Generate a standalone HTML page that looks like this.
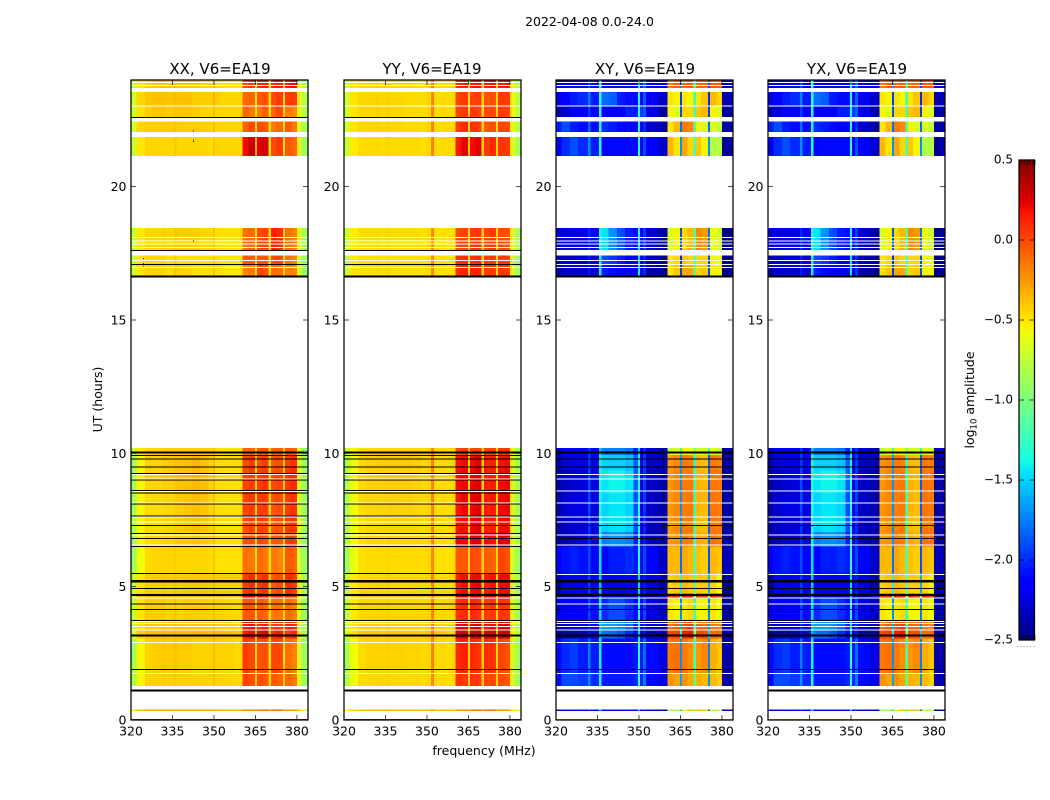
<!DOCTYPE html>
<html lang="en">
<head>
<meta charset="utf-8">
<title>2022-04-08 0.0-24.0</title>
<style>
html,body{margin:0;padding:0;background:#fff;}
svg{display:block;}
text{font-family:"DejaVu Sans","Liberation Sans",sans-serif;fill:#000;}
</style>
</head>
<body>
<svg id="chart" xmlns="http://www.w3.org/2000/svg" width="1050" height="800" viewBox="0 0 1050 800">
  <rect x="0" y="0" width="1050" height="800" fill="#fff"/>
  <text x="589.5" y="26" font-size="12.5" text-anchor="middle">2022-04-08 0.0-24.0</text>
  <g id="panel-xx"></g>
  <g id="panel-yy"></g>
  <g id="panel-xy"></g>
  <g id="panel-yx"></g>
  <text x="220" y="74" font-size="15" text-anchor="middle">XX, V6=EA19</text>
  <text x="432" y="74" font-size="15" text-anchor="middle">YY, V6=EA19</text>
  <text x="645" y="74" font-size="15" text-anchor="middle">XY, V6=EA19</text>
  <text x="857" y="74" font-size="15" text-anchor="middle">YX, V6=EA19</text>
  <text x="484" y="755" font-size="12.5" text-anchor="middle">frequency (MHz)</text>
  <text x="0" y="0" font-size="12.5" text-anchor="middle" transform="translate(102,399.5) rotate(-90)">UT (hours)</text>
  <g id="colorbar"></g>
  <text x="0" y="0" font-size="12.5" text-anchor="middle" transform="translate(974,400) rotate(-90)">log<tspan font-size="8.5" dy="2.5">10</tspan><tspan dy="-2.5"> amplitude</tspan></text>
</svg>
<script>
// Frequency channel edges (MHz) and time rows (UT hours)
const freqEdges = [320,322,325,328,331.5,332.5,335.5,336.5,339,342,345,348,349.7,350.4,351.5,352.5,357,360.4,362.5,364.8,365.6,367.5,369.8,370.6,372.5,374.9,375.6,378,380,381,382,384];
const timeStart = [23.7,23.0,22.6,22.05,21.15,17.6,17.1,16.65,9.94,9.35,8.5,7.8,7.05,6.5,5.5,4.75,4.55,3.75,3.35,3.05,1.75,1.27,0.33,0];
const timeEnd = [24,23.55,23.0,22.45,21.87,18.45,17.42,17.1,10.2,9.94,9.35,8.5,7.8,7.05,6.5,5.5,4.75,4.55,3.75,3.35,3.05,1.75,0.4,0.04];

// log10 amplitude x 100, one row per time row, one value per channel
const xxValues = [
[-75,-48,-42,-40,-38,-42,-38,-42,-42,-42,-45,-45,-35,-45,-45,-48,-48,0,5,-48,10,15,-48,10,15,-45,15,20,-50,-70,-85],
[-70,-45,-40,-38,-38,-40,-36,-40,-38,-42,-42,-42,-32,-42,-42,-45,-45,-10,-8,-48,-5,-2,-48,0,5,-48,5,5,-48,-68,-80],
[-72,-48,-42,-40,-40,-42,-38,-40,-40,-42,-45,-45,-35,-45,-45,-45,-45,-8,-15,-48,-15,-5,-48,-8,0,-48,-15,-20,-52,-70,-82],
[-68,-45,-42,-42,-42,-42,-38,-42,-42,-42,-42,-45,-35,-45,-45,-45,-45,-8,0,-45,0,-5,-48,-15,-10,-48,-5,-15,-55,-72,-85],
[-72,-50,-45,-45,-45,-45,-40,-45,-45,-45,-45,-48,-38,-45,-45,-45,-45,20,32,-30,25,28,-48,0,5,-48,-5,-10,-50,-72,-90],
[-72,-50,-45,-45,-42,-45,-38,-42,-42,-42,-45,-45,-38,-48,-48,-48,-48,-12,-10,-48,0,2,-48,15,10,-48,-12,-18,-50,-72,-88],
[-75,-50,-45,-45,-45,-48,-40,-48,-48,-48,-48,-48,-40,-48,-48,-50,-50,-5,-5,-48,-2,-5,-48,0,2,-48,-12,-18,-52,-72,-90],
[-72,-50,-45,-45,-45,-48,-38,-45,-45,-48,-48,-48,-38,-48,-48,-50,-50,-18,-15,-48,2,-2,-48,-12,-12,-48,-18,-20,-55,-75,-95],
[-72,-50,-45,-45,-42,-42,-42,-42,-42,-42,-42,-45,-35,-48,-48,-48,-48,-8,-8,-45,-5,-5,-45,-8,-8,-45,-5,-8,-60,-75,-95],
[-85,-55,-45,-45,-42,-42,-40,-40,-38,-36,-40,-45,-35,-48,-48,-48,-48,0,5,-45,0,5,-45,-5,-2,-45,5,8,-55,-75,-90],
[-85,-55,-45,-45,-42,-42,-40,-40,-38,-35,-38,-45,-35,-48,-48,-48,-48,2,5,-45,5,8,-45,0,2,-45,7,10,-55,-75,-90],
[-85,-55,-47,-47,-45,-45,-42,-42,-40,-37,-40,-45,-37,-48,-48,-48,-48,2,5,-45,5,5,-45,-2,0,-45,5,7,-55,-75,-90],
[-85,-55,-47,-47,-45,-45,-42,-42,-40,-38,-40,-45,-37,-48,-48,-48,-48,0,2,-45,5,2,-45,-4,-2,-45,5,7,-55,-75,-90],
[-85,-55,-47,-47,-45,-45,-42,-42,-42,-40,-42,-45,-37,-48,-48,-48,-48,-2,-2,-45,2,-2,-45,-4,-4,-45,5,5,-58,-78,-92],
[-88,-58,-47,-45,-45,-45,-42,-45,-45,-45,-45,-47,-38,-48,-48,-48,-48,-12,-15,-48,-10,-15,-48,-15,-18,-48,-5,-8,-60,-80,-90],
[-75,-50,-42,-42,-40,-42,-38,-42,-40,-40,-40,-42,-33,-42,-42,-42,-42,5,10,-42,5,10,-45,-5,0,-45,10,5,-52,-72,-85],
[-65,-40,-35,-35,-34,-35,-32,-35,-35,-35,-35,-36,-30,-36,-36,-36,-38,25,32,-15,25,20,-25,10,10,-25,15,10,-42,-65,-78],
[-75,-50,-42,-42,-42,-45,-38,-45,-42,-42,-42,-45,-35,-45,-45,-45,-47,-5,-5,-48,-5,-10,-48,-15,-15,-48,-12,-18,-55,-75,-90],
[-72,-48,-42,-42,-40,-42,-36,-40,-40,-40,-40,-42,-33,-42,-42,-42,-45,15,20,-40,10,15,-45,5,5,-42,15,10,-50,-70,-85],
[-65,-42,-38,-38,-36,-38,-34,-38,-38,-38,-38,-38,-32,-38,-38,-38,-40,15,20,-35,20,25,-35,10,15,-35,5,10,-45,-68,-82],
[-85,-55,-44,-42,-41,-42,-38,-42,-42,-44,-44,-44,-35,-44,-44,-44,-46,5,0,-45,-2,-2,-48,2,0,-48,-12,-18,-55,-75,-90],
[-85,-55,-44,-44,-42,-44,-40,-44,-44,-44,-44,-45,-38,-45,-45,-45,-47,2,-2,-42,0,-5,-45,-5,-8,-45,-10,-15,-55,-75,-90],
[-55,-38,-32,-32,-32,-32,-30,-32,-32,-32,-32,-32,-28,-32,-32,-35,-35,-20,-20,-30,-15,-10,-28,-10,-10,-30,-25,-25,-45,-55,-65],
[30,30,30,30,30,30,30,30,30,30,30,30,30,30,30,30,30,30,30,30,30,30,30,30,30,30,30,30,30,30,30]
];

const yyValues = [
[-72,-50,-45,-45,-42,-45,-42,-45,-45,-45,-47,-47,-45,-45,-15,-47,-47,10,15,-45,15,18,-45,15,18,-45,15,18,-47,-65,-80],
[-70,-50,-45,-45,-43,-45,-42,-45,-45,-47,-47,-47,-45,-45,-18,-47,-47,2,5,-45,2,5,-45,-2,-2,-45,5,5,-47,-62,-78],
[-70,-50,-45,-45,-43,-45,-42,-45,-45,-47,-47,-47,-45,-45,-18,-47,-47,2,5,-45,5,2,-45,0,0,-45,5,2,-47,-62,-78],
[-70,-50,-45,-45,-43,-45,-42,-45,-45,-47,-47,-47,-45,-45,-18,-47,-47,5,10,-45,8,5,-45,-5,-2,-45,2,0,-50,-65,-80],
[-72,-52,-47,-47,-45,-47,-44,-47,-47,-47,-47,-48,-46,-47,-18,-47,-47,15,25,-38,20,25,-45,5,10,-45,7,5,-50,-68,-85],
[-72,-52,-47,-47,-45,-47,-44,-47,-47,-47,-47,-48,-46,-47,-20,-48,-48,0,2,-45,5,7,-45,2,5,-45,0,-2,-50,-68,-85],
[-75,-52,-48,-48,-46,-48,-45,-48,-48,-48,-48,-48,-47,-48,-20,-48,-50,7,10,-45,7,10,-45,5,5,-45,5,5,-52,-70,-88],
[-72,-50,-48,-48,-46,-48,-45,-48,-48,-48,-48,-48,-47,-48,-20,-48,-50,10,13,-45,13,13,-45,5,5,-45,7,5,-52,-70,-88],
[-80,-55,-47,-46,-45,-45,-44,-45,-45,-45,-45,-46,-45,-46,-18,-47,-47,0,5,-45,2,2,-45,2,2,-45,7,7,-52,-70,-88],
[-85,-58,-47,-44,-43,-43,-42,-42,-42,-42,-44,-46,-45,-46,-18,-47,-47,18,20,-45,20,25,-45,13,13,-45,18,20,-50,-70,-85],
[-85,-58,-47,-44,-43,-43,-42,-42,-42,-42,-44,-46,-45,-46,-18,-47,-47,20,22,-45,22,25,-45,15,15,-45,20,22,-50,-70,-85],
[-85,-58,-47,-45,-44,-44,-43,-43,-43,-43,-45,-46,-45,-46,-18,-47,-47,18,22,-45,22,25,-45,15,15,-45,20,22,-50,-70,-85],
[-85,-58,-48,-46,-45,-45,-44,-44,-44,-44,-45,-46,-45,-46,-18,-47,-47,18,20,-45,22,25,-45,13,15,-45,20,20,-50,-70,-85],
[-85,-58,-48,-46,-45,-46,-44,-45,-45,-45,-46,-46,-45,-46,-18,-47,-47,22,22,-42,25,25,-44,20,18,-44,25,22,-50,-70,-85],
[-88,-60,-48,-47,-46,-47,-45,-47,-47,-47,-47,-47,-46,-47,-20,-48,-48,-5,-5,-45,0,-2,-45,-5,-8,-45,2,-2,-55,-75,-88],
[-78,-52,-46,-45,-44,-45,-42,-45,-45,-45,-45,-46,-44,-46,-18,-46,-46,15,20,-42,20,22,-44,15,18,-44,20,20,-50,-70,-85],
[-70,-45,-40,-40,-38,-40,-36,-40,-40,-40,-40,-40,-38,-40,-15,-40,-42,28,33,-20,30,33,-30,25,28,-30,28,30,-42,-65,-78],
[-78,-52,-46,-45,-44,-45,-42,-45,-45,-45,-45,-46,-44,-46,-18,-46,-46,7,10,-45,10,7,-45,5,5,-45,7,5,-52,-70,-85],
[-75,-50,-44,-44,-42,-44,-40,-44,-44,-44,-44,-44,-42,-44,-15,-45,-46,22,25,-42,25,28,-44,18,20,-42,25,25,-48,-68,-82],
[-70,-48,-42,-42,-40,-42,-38,-42,-42,-42,-42,-42,-40,-42,-15,-42,-44,28,30,-30,30,32,-32,25,28,-32,28,30,-45,-65,-80],
[-85,-58,-47,-44,-43,-44,-42,-44,-44,-45,-45,-46,-45,-46,-18,-46,-47,10,13,-45,10,7,-45,10,7,-45,2,-2,-52,-72,-88],
[-85,-58,-47,-46,-45,-46,-43,-46,-46,-46,-46,-47,-46,-47,-20,-47,-48,7,5,-42,7,5,-44,2,0,-44,0,-5,-52,-72,-88],
[-60,-45,-38,-38,-38,-38,-36,-38,-38,-38,-38,-38,-36,-38,-20,-40,-40,-25,-22,-32,-15,-12,-30,-12,-12,-32,-22,-25,-45,-55,-65],
[30,30,30,30,30,30,30,30,30,30,30,30,30,30,30,30,30,30,30,30,30,30,30,30,30,30,30,30,30,30,30]
];

const xyValues = [
[-230,-220,-220,-215,-190,-220,-130,-215,-220,-220,-220,-215,-130,-205,-180,-220,-225,-15,-5,-170,-10,-5,-130,-10,-10,-190,-5,-5,-240,-240,-235],
[-225,-215,-205,-200,-175,-205,-130,-180,-185,-205,-210,-210,-135,-210,-185,-220,-230,-50,-55,-195,-50,-55,-125,-50,-40,-200,-35,-45,-240,-240,-235],
[-240,-230,-220,-220,-195,-220,-135,-220,-220,-220,-205,-205,-135,-195,-185,-225,-240,-55,-65,-190,-45,-45,-125,-40,-35,-195,-55,-65,-245,-240,-240],
[-205,-190,-205,-210,-180,-210,-135,-200,-205,-210,-215,-215,-135,-220,-200,-230,-240,-50,-35,-180,-15,-20,-115,-55,-65,-180,-65,-75,-240,-240,-240],
[-220,-200,-190,-200,-170,-205,-135,-215,-210,-210,-210,-210,-130,-215,-190,-215,-230,-35,-50,-170,-30,-45,-120,-40,-55,-170,-80,-80,-245,-245,-240],
[-230,-225,-225,-225,-200,-220,-135,-145,-170,-190,-205,-210,-135,-215,-195,-230,-240,-65,-55,-190,-45,-35,-120,-20,-25,-180,-60,-70,-245,-245,-245],
[-235,-230,-230,-230,-205,-230,-140,-190,-195,-205,-215,-220,-145,-220,-200,-235,-240,-50,-45,-200,-40,-45,-120,-45,-45,-190,-55,-60,-245,-245,-245],
[-240,-230,-230,-230,-205,-230,-140,-205,-210,-215,-220,-220,-140,-225,-200,-240,-245,-50,-40,-195,-30,-30,-115,-45,-40,-190,-55,-55,-245,-245,-245],
[-230,-220,-220,-220,-195,-220,-150,-175,-175,-175,-180,-205,-145,-220,-200,-230,-235,-75,-65,-130,-55,-60,-100,-70,-70,-130,-60,-70,-240,-235,-235],
[-235,-225,-222,-222,-195,-220,-135,-150,-150,-150,-155,-185,-135,-220,-195,-230,-235,-25,-20,-165,-15,-18,-130,-35,-38,-185,-15,-18,-245,-240,-240],
[-240,-232,-228,-225,-190,-225,-135,-145,-140,-140,-145,-185,-135,-225,-195,-232,-240,-25,-18,-170,-15,-15,-125,-33,-36,-185,-14,-15,-245,-240,-240],
[-240,-228,-225,-225,-190,-225,-135,-150,-145,-145,-150,-190,-135,-225,-195,-232,-240,-25,-20,-170,-16,-15,-125,-33,-36,-185,-14,-15,-245,-240,-240],
[-240,-232,-228,-228,-195,-228,-135,-150,-145,-145,-150,-190,-135,-225,-200,-235,-240,-25,-20,-170,-16,-15,-125,-35,-38,-185,-14,-15,-245,-240,-240],
[-240,-235,-232,-228,-200,-228,-140,-175,-170,-170,-175,-205,-140,-228,-205,-235,-240,-25,-22,-170,-15,-18,-125,-30,-33,-180,-12,-15,-245,-240,-240],
[-218,-208,-204,-208,-190,-212,-145,-214,-205,-205,-200,-205,-130,-210,-190,-212,-232,-36,-36,-180,-30,-36,-120,-38,-42,-190,-35,-40,-240,-235,-235],
[-238,-220,-220,-220,-195,-220,-150,-220,-220,-220,-220,-220,-145,-220,-205,-225,-238,-45,-40,-140,-35,-40,-115,-42,-42,-160,-45,-55,-240,-240,-240],
[-245,-242,-240,-240,-225,-238,-175,-232,-232,-232,-232,-232,-165,-238,-220,-238,-210,5,12,-140,15,12,-110,10,5,-120,12,5,-245,-245,-240],
[-225,-215,-215,-215,-190,-210,-145,-200,-190,-190,-200,-210,-135,-215,-190,-225,-232,-50,-55,-170,-50,-45,-125,-55,-55,-175,-50,-60,-240,-240,-240],
[-238,-230,-230,-225,-200,-220,-150,-165,-165,-170,-180,-205,-140,-220,-200,-230,-238,-15,-5,-160,0,5,-120,-10,-10,-170,-15,-20,-240,-240,-240],
[-242,-238,-238,-234,-210,-230,-160,-180,-180,-188,-200,-220,-150,-230,-210,-238,-240,0,5,-140,15,18,-100,0,0,-150,-10,-10,-245,-245,-245],
[-210,-200,-195,-205,-175,-205,-140,-210,-210,-210,-210,-205,-130,-205,-180,-210,-225,-15,-12,-170,-15,-22,-120,-25,-20,-175,-32,-40,-240,-240,-240],
[-210,-190,-190,-195,-170,-200,-135,-205,-205,-205,-205,-200,-125,-200,-175,-210,-220,-22,-28,-165,-22,-30,-115,-32,-35,-170,-35,-42,-240,-240,-240],
[-230,-220,-220,-215,-200,-220,-155,-220,-220,-220,-220,-220,-160,-220,-205,-230,-238,-85,-85,-150,-55,-40,-120,-40,-40,-180,-80,-85,-240,-240,-240],
[-30,-30,-30,-30,-30,-30,-30,-30,-30,-30,-30,-30,-30,-30,-30,-30,-25,10,15,5,15,15,5,10,10,5,-20,-20,-30,-30,-30]
];

const yxValues = xyValues;

// Flagged time samples (UT hours) drawn as thin or thick horizontal lines
const parallelBlackThin = [9.91,9.78,9.48,9.25,9.0,8.6,8.52,8.1,7.65,7.3,6.99,6.81,6.5,5.49,4.94,4.71,4.66,4.35,4.15,3.74,1.9,22.6,17.6,17.09];
const parallelBlackThick = [10.03,5.21,3.17,1.105,16.63];
const parallelWhiteThin = [9.21,9.04,8.56,8.13,7.62,7.42,6.93,6.57,4.57,3.7,3.61,3.5,3.37,2.91,1.75,18.1,17.97,17.85,17.72,23.02,23.91,23.8,17.23,16.97];
const crossBlackThin = [9.78,9.48,7.3,6.81,4.94,4.71,4.66,4.15,3.74,1.9];
const crossBlackThick = [10.03,5.21,3.17,1.105,16.63];
const crossWhiteThin = [9.21,9.04,8.58,8.13,7.62,7.42,6.93,6.57,5.46,4.57,4.35,3.7,3.61,3.5,3.37,2.91,1.75,23.91,23.8,23.02,22.6,18.1,17.97,17.85,17.72,17.6,17.09,17.23,16.97];

// Isolated outlier samples on the XX panel
const outlierFreq = [342.4,342.4,342.4,342.4,324.3,324.3,324.3];
const outlierTime = [22.1,21.76,21.72,17.98,17.32,17.13,17.05];

// Axis ticks
const xTicks = [320,335,350,365,380];
const yTicks = [0,5,10,15,20];
const colorbarTicks = [0.5,0,-0.5,-1,-1.5,-2,-2.5];
const colorbarLabels = ['0.5','0.0','\u22120.5','\u22121.0','\u22121.5','\u22122.0','\u22122.5'];

const SVGNS = 'http://www.w3.org/2000/svg';
const TOP = 80, BOTTOM = 720, PANEL_W = 177;
const VMIN = -2.5, VMAX = 0.5;

function yScale(ut) { return BOTTOM + (TOP - BOTTOM) * ut / 24; }
function xScale(left, f) { return left + (f - 320) / 64 * PANEL_W; }

function piecewise(t, pts) {
  for (let i = 1; i < pts.length; i++) {
    if (t <= pts[i][0]) {
      const a = pts[i - 1], b = pts[i];
      return a[1] + (b[1] - a[1]) * (t - a[0]) / (b[0] - a[0]);
    }
  }
  return pts[pts.length - 1][1];
}

function jet(v) {
  const t = Math.max(0, Math.min(1, (v - VMIN) / (VMAX - VMIN)));
  const r = piecewise(t, [[0, 0], [0.35, 0], [0.66, 1], [0.89, 1], [1, 0.5]]);
  const g = piecewise(t, [[0, 0], [0.125, 0], [0.375, 1], [0.64, 1], [0.91, 0], [1, 0]]);
  const b = piecewise(t, [[0, 0.5], [0.11, 1], [0.34, 1], [0.65, 0], [1, 0]]);
  return 'rgb(' + Math.round(255 * r) + ',' + Math.round(255 * g) + ',' + Math.round(255 * b) + ')';
}

function svgEl(tag, parent) {
  const el = document.createElementNS(SVGNS, tag);
  parent.appendChild(el);
  return el;
}

function rect(parent, x, y, w, h, fill) {
  const el = svgEl('rect', parent);
  el.setAttribute('x', x);
  el.setAttribute('y', y);
  el.setAttribute('width', w);
  el.setAttribute('height', h);
  el.setAttribute('fill', fill);
  el.setAttribute('shape-rendering', 'crispEdges');
  return el;
}

function flagLine(g, left, ut, thick, color, name) {
  const h = thick ? 2.4 : 1;
  const el = rect(g, left, yScale(ut) - h / 2, PANEL_W, h, color);
  
  
}

function drawPanel(id, left, values, blackThin, blackThick, whiteThin, showOutliers) {
  const g = document.getElementById(id);
  values.forEach(function (row, r) {
    const yTop = yScale(timeEnd[r]);
    const yBot = yScale(timeStart[r]);
    row.forEach(function (val, c) {
      const x0 = xScale(left, freqEdges[c]);
      const x1 = xScale(left, freqEdges[c + 1]);
      const cell = rect(g, x0, yTop, x1 - x0, yBot - yTop, jet(val / 100));
      
      
    });
  });
  whiteThin.forEach(function (ut) { flagLine(g, left, ut, false, '#fff', 'flagged-white-line'); });
  blackThin.forEach(function (ut) { flagLine(g, left, ut, false, '#000', 'flagged-black-line'); });
  blackThick.forEach(function (ut) { flagLine(g, left, ut, true, '#000', 'flagged-black-band'); });

  if (showOutliers) {
    outlierFreq.forEach(function (f, i) {
      const dot = rect(g, xScale(left, f), yScale(outlierTime[i]), 1, 1, '#400');
      
      
    });
  }

  const frame = svgEl('rect', g);
  
  
  frame.setAttribute('x', left);
  frame.setAttribute('y', TOP);
  frame.setAttribute('width', PANEL_W);
  frame.setAttribute('height', BOTTOM - TOP);
  frame.setAttribute('fill', 'none');
  frame.setAttribute('stroke', '#000');
  frame.setAttribute('stroke-width', '1.25');

  xTicks.forEach(function (f) {
    const x = xScale(left, f);
    [[BOTTOM, BOTTOM - 5], [TOP, TOP + 5]].forEach(function (pair) {
      const t = svgEl('line', g);
      
      
      t.setAttribute('x1', x);
      t.setAttribute('x2', x);
      t.setAttribute('y1', pair[0]);
      t.setAttribute('y2', pair[1]);
      t.setAttribute('stroke', '#000');
      t.setAttribute('stroke-width', '0.7');
    });
    const lab = svgEl('text', g);
    
    
    lab.setAttribute('x', x);
    lab.setAttribute('y', BOTTOM + 15.5);
    lab.setAttribute('font-size', '12.5');
    lab.setAttribute('text-anchor', 'middle');
    lab.textContent = String(f);
  });

  yTicks.forEach(function (ut) {
    const y = yScale(ut);
    [[left, left + 5], [left + PANEL_W, left + PANEL_W - 5]].forEach(function (pair) {
      const t = svgEl('line', g);
      
      
      t.setAttribute('x1', pair[0]);
      t.setAttribute('x2', pair[1]);
      t.setAttribute('y1', y);
      t.setAttribute('y2', y);
      t.setAttribute('stroke', '#000');
      t.setAttribute('stroke-width', '0.7');
    });
    const lab = svgEl('text', g);
    
    
    lab.setAttribute('x', left - 4.5);
    lab.setAttribute('y', y + 4.5);
    lab.setAttribute('font-size', '12.5');
    lab.setAttribute('text-anchor', 'end');
    lab.textContent = String(ut);
  });
}

drawPanel('panel-xx', 131, xxValues, parallelBlackThin, parallelBlackThick, parallelWhiteThin, true);
drawPanel('panel-yy', 344, yyValues, parallelBlackThin, parallelBlackThick, parallelWhiteThin, false);
drawPanel('panel-xy', 556, xyValues, crossBlackThin, crossBlackThick, crossWhiteThin, false);
drawPanel('panel-yx', 768, yxValues, crossBlackThin, crossBlackThick, crossWhiteThin, false);

// Colorbar
(function () {
  const g = document.getElementById('colorbar');
  const CB_X = 1019, CB_W = 15.5, CB_TOP = 160, CB_BOT = 640;
  const cbY = (v) => CB_BOT + (CB_TOP - CB_BOT) * (v - VMIN) / (VMAX - VMIN);
  for (let py = CB_TOP; py < CB_BOT; py += 2) {
    const v = VMIN + (CB_BOT - py - 1) / (CB_BOT - CB_TOP) * (VMAX - VMIN);
    const seg = rect(g, CB_X, py, CB_W, 2, jet(v));
    
    
  }
  const frame = svgEl('rect', g);
  
  
  frame.setAttribute('x', CB_X);
  frame.setAttribute('y', CB_TOP);
  frame.setAttribute('width', CB_W);
  frame.setAttribute('height', CB_BOT - CB_TOP);
  frame.setAttribute('fill', 'none');
  frame.setAttribute('stroke', '#000');
  frame.setAttribute('stroke-width', '1.25');
  colorbarTicks.forEach(function (v, i) {
    const y = cbY(v);
    [[CB_X, CB_X + 5], [CB_X + CB_W, CB_X + CB_W - 5]].forEach(function (pair) {
      const t = svgEl('line', g);
      
      
      t.setAttribute('x1', pair[0]);
      t.setAttribute('x2', pair[1]);
      t.setAttribute('y1', y);
      t.setAttribute('y2', y);
      t.setAttribute('stroke', '#000');
      t.setAttribute('stroke-width', '0.7');
    });
    const lab = svgEl('text', g);
    
    
    lab.setAttribute('x', 1013);
    lab.setAttribute('y', y + 3.5);
    lab.setAttribute('font-size', '12');
    lab.setAttribute('text-anchor', 'end');
    lab.textContent = colorbarLabels[i];
  });
  for (let k = 0; k < 6; k++) {
    const fx = CB_X + 3 + k * 2.6;
    [[CB_TOP, CB_TOP + 5], [CB_BOT, CB_BOT - 5]].forEach(function (pair) {
      const t = svgEl('line', g);
      
      
      t.setAttribute('x1', fx);
      t.setAttribute('x2', fx);
      t.setAttribute('y1', pair[0]);
      t.setAttribute('y2', pair[1]);
      t.setAttribute('stroke', '#000');
      t.setAttribute('stroke-width', '0.6');
    });
    const dot = rect(g, CB_X - 2 + k * 3.3, 646, 1, 1, '#999');
    
    
  }
})();
</script>
</body>
</html>
